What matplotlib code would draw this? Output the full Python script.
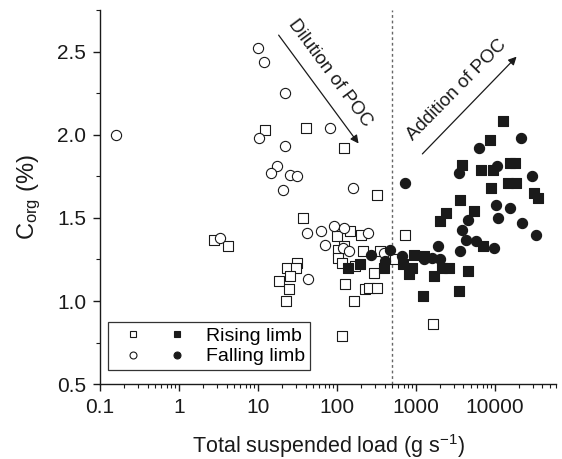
import matplotlib
matplotlib.use("Agg")
import matplotlib.pyplot as plt
from matplotlib.lines import Line2D
from matplotlib.legend_handler import HandlerTuple
from matplotlib.ticker import LogLocator, NullFormatter, FuncFormatter, MultipleLocator

plt.rcParams['font.family'] = ['Liberation Sans', 'DejaVu Sans']
plt.rcParams['mathtext.fontset'] = 'custom'
plt.rcParams['mathtext.rm'] = 'Liberation Sans'
plt.rcParams['mathtext.it'] = 'Liberation Sans'
plt.rcParams['mathtext.default'] = 'regular'

# rising limb, open symbols (load g/s, Corg %)
rise_open_x = [2.8, 4.2, 12.3, 40, 121, 320, 37, 147, 203, 99, 102, 121, 212, 354,
               102, 116, 171, 31, 23, 30, 25.6, 18.4, 25, 22.6, 295, 127, 224, 257,
               318, 166, 117, 735, 1630, 550]
rise_open_y = [1.37, 1.33, 2.03, 2.04, 1.92, 1.64, 1.50, 1.42, 1.40, 1.39, 1.31, 1.33,
               1.30, 1.30, 1.26, 1.23, 1.21, 1.23, 1.20, 1.20, 1.15, 1.12, 1.07, 1.00,
               1.17, 1.10, 1.07, 1.08, 1.08, 1.00, 0.79, 1.40, 0.86, 1.25]

# rising limb, filled symbols
rise_fill_x = [12800, 8600, 3800, 6650, 9500, 15700, 18000, 14700, 18600, 9000, 31700,
               34800, 3570, 5400, 2370, 2000, 7000, 955, 1270, 2120, 2650, 680, 890,
               820, 1710, 4600, 1230, 3550, 392, 196, 136]
rise_fill_y = [2.08, 1.97, 1.82, 1.79, 1.79, 1.83, 1.83, 1.71, 1.71, 1.68, 1.65, 1.62,
               1.61, 1.54, 1.53, 1.48, 1.33, 1.28, 1.27, 1.20, 1.20, 1.22, 1.20, 1.16,
               1.15, 1.18, 1.03, 1.06, 1.20, 1.22, 1.20]

# falling limb, open symbols
fall_open_x = [0.16, 10.1, 12, 22, 82, 10.3, 22, 17.5, 14.6, 25.8, 31, 20.5, 158, 3.3,
               42, 63, 92, 122, 245, 71, 120, 140, 43, 390]
fall_open_y = [2.00, 2.52, 2.44, 2.25, 2.04, 1.98, 1.93, 1.81, 1.77, 1.76, 1.75, 1.67,
               1.68, 1.38, 1.41, 1.42, 1.45, 1.44, 1.41, 1.34, 1.32, 1.30, 1.13, 1.29]

# falling limb, filled symbols
fall_fill_x = [21400, 6300, 10700, 3550, 29600, 720, 10400, 15700, 11000, 4600, 21900,
               3780, 33300, 4330, 5740, 9800, 1930, 3650, 474, 272, 667, 400, 1280,
               1610, 2040]
fall_fill_y = [1.98, 1.92, 1.81, 1.77, 1.75, 1.71, 1.58, 1.56, 1.50, 1.49, 1.47, 1.43,
               1.40, 1.37, 1.36, 1.32, 1.33, 1.30, 1.31, 1.28, 1.27, 1.24, 1.25, 1.26,
               1.25]

threshold = 500

fig, ax = plt.subplots(figsize=(5.62, 4.59), dpi=100)
fig.subplots_adjust(left=0.178, right=0.99, bottom=0.163, top=0.978)

ink = '#1a1a1a'
ax.scatter(rise_open_x, rise_open_y, marker='s', s=44, facecolor='white', edgecolor=ink, linewidth=0.8, zorder=3)
ax.scatter(fall_open_x, fall_open_y, marker='o', s=54, facecolor='white', edgecolor=ink, linewidth=0.8, zorder=3)
ax.scatter(rise_fill_x, rise_fill_y, marker='s', s=44, facecolor=ink, edgecolor=ink, linewidth=0.8, zorder=4)
ax.scatter(fall_fill_x, fall_fill_y, marker='o', s=54, facecolor=ink, edgecolor=ink, linewidth=0.8, zorder=4)

ax.axvline(threshold, color='#666666', linestyle=(0, (2, 2)), linewidth=1.0, zorder=1)

ax.set_xscale('log')
ax.set_xlim(0.1, 60000)
ax.set_ylim(0.5, 2.75)

ax.xaxis.set_major_locator(LogLocator(base=10, numticks=10))
ax.xaxis.set_minor_locator(LogLocator(base=10, subs=range(2, 10), numticks=20))
ax.xaxis.set_minor_formatter(NullFormatter())
ax.xaxis.set_major_formatter(FuncFormatter(lambda v, p: '%g' % v))
ax.yaxis.set_major_locator(MultipleLocator(0.5))
ax.yaxis.set_minor_locator(MultipleLocator(0.25))
ax.yaxis.set_major_formatter(FuncFormatter(lambda v, p: '%.1f' % v))

for s in ['top', 'right']:
    ax.spines[s].set_visible(False)
for s in ['left', 'bottom']:
    ax.spines[s].set_linewidth(1.0)
    ax.spines[s].set_color(ink)
ax.tick_params(which='major', direction='out', length=5, width=1.0, labelsize=15, colors=ink)
ax.tick_params(axis='x', which='major', pad=5)
ax.tick_params(axis='y', which='major', pad=5)
ax.tick_params(which='minor', direction='out', length=3, width=0.8, colors=ink)

ax.set_xlabel('Total suspended load (g s$^{-1}$)', fontsize=15.5, color=ink, labelpad=11)
ax.set_ylabel('C$_{org}$ (%)', fontsize=17, color=ink, labelpad=10)

# trend arrows
ax.annotate('', xy=(197, 1.934), xytext=(17.4, 2.613),
            arrowprops=dict(arrowstyle='-|>', color=ink, lw=0.9, mutation_scale=12))
ax.text(82, 2.37, 'Dilution of POC', rotation=-53.5, rotation_mode='anchor',
        ha='center', va='center', fontsize=13.5, color=ink)
ax.annotate('', xy=(19900, 2.482), xytext=(1140, 1.873),
            arrowprops=dict(arrowstyle='-|>', color=ink, lw=0.9, mutation_scale=12))
ax.text(3300, 2.27, 'Addition of POC', rotation=45.5, rotation_mode='anchor',
        ha='center', va='center', fontsize=13.5, color=ink)

h_ro = Line2D([], [], marker='s', ls='none', ms=4.5, mfc='white', mec=ink, mew=0.8)
h_rf = Line2D([], [], marker='s', ls='none', ms=4.5, mfc=ink, mec=ink, mew=0.8)
h_fo = Line2D([], [], marker='o', ls='none', ms=5, mfc='white', mec=ink, mew=0.8)
h_ff = Line2D([], [], marker='o', ls='none', ms=5, mfc=ink, mec=ink, mew=0.8)
leg = ax.legend([(h_ro, h_rf), (h_fo, h_ff)], ['Rising limb', 'Falling limb'],
                handler_map={tuple: HandlerTuple(ndivide=None, pad=0.19)},
                loc='lower left', bbox_to_anchor=(0.017, 0.037), borderaxespad=0,
                fontsize=14, handlelength=4.35, handletextpad=0.45, borderpad=0.25,
                labelspacing=0.15, fancybox=False, framealpha=1, edgecolor='#333333')
leg.get_frame().set_linewidth(0.9)

fig.savefig('out.png', dpi=100)
